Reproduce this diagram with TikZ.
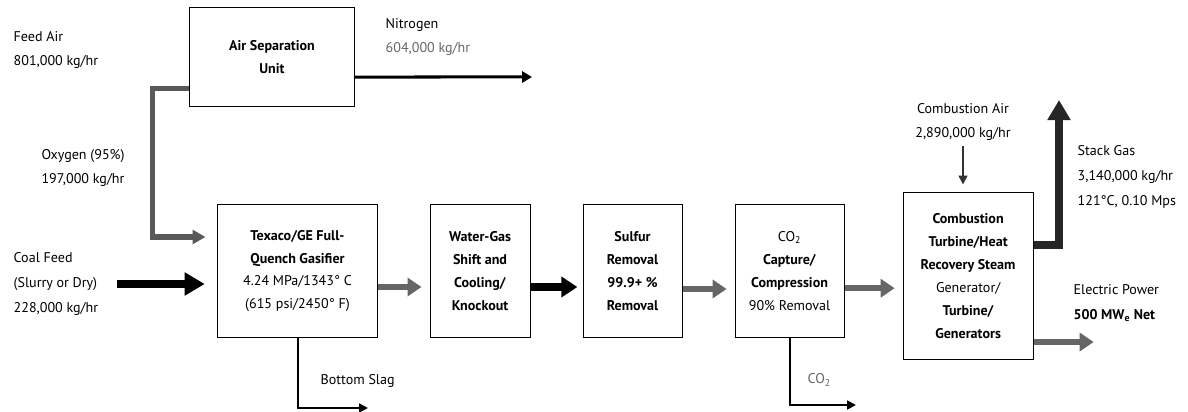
\documentclass[tikz,border=0pt]{standalone}
\usepackage{fontspec}
\setmainfont{PT Sans}
\usetikzlibrary{arrows.meta,positioning}

\begin{document}
\begin{tikzpicture}[
  x=0.025cm, y=-0.025cm,
  node distance=1.3cm,
  block/.style={rectangle, draw, line width=0.7pt, align=center, inner sep=2pt,
                minimum height=3.3cm, font=\fontsize{10}{16.3}\selectfont},
  lbl/.style={inner sep=1pt, font=\fontsize{10}{17.5}\selectfont},
  grayarr/.style={draw=black!60, line width=1.5mm,
                  -{Triangle[length=3.5mm,width=4.5mm]}, shorten >=2mm},
  bigarr/.style={line width=1.9mm, -{Triangle[length=5mm,width=5.5mm]}},
  medarr/.style={line width=0.75mm, -{Triangle[length=2.5mm,width=2.8mm]}},
  thinarr/.style={line width=0.5mm, -{Triangle[length=2.2mm,width=2.2mm]}},
]
  \useasboundingbox (0,0) rectangle (1188,412);

  % process boxes
  \node[block, minimum width=4.1cm, minimum height=2.45cm] (asu) at (272,57)
    {\textbf{Air Separation}\\\textbf{Unit}};
  \node[block, minimum width=3.975cm] (gas) at (297.5,271)
    {\textbf{Texaco/GE Full-}\\\textbf{Quench Gasifier}\\4.24 MPa/1343° C\\(615 psi/2450° F)};
  \node[block, minimum width=2.5cm, right=of gas] (wgs)
    {\textbf{Water-Gas}\\\textbf{Shift and}\\\textbf{Cooling/}\\\textbf{Knockout}};
  \node[block, minimum width=2.475cm, right=of wgs] (sulf)
    {\textbf{Sulfur}\\\textbf{Removal}\\\textbf{99.9+ \%}\\\textbf{Removal}};
  \node[block, minimum width=2.725cm, right=of sulf] (co2)
    {CO\textsubscript{2}\\\textbf{Capture/}\\\textbf{Compression}\\90\% Removal};
  \node[block, minimum width=3.25cm, minimum height=4.15cm, right=1.45cm of co2, yshift=-0.125cm] (ctg)
    {\textbf{Combustion}\\\textbf{Turbine/Heat}\\\textbf{Recovery Steam}\\Generator/\\\textbf{Turbine/}\\\textbf{Generators}};

  % stream labels
  \node[lbl, anchor=west, align=left] (feed) at (12,50) {Feed Air\\801,000 kg/hr};
  \node[lbl, align=center] (oxy) at (83,168) {Oxygen (95\%)\\197,000 kg/hr};
  \node[lbl, anchor=west, align=left] (nitro) at (384,37)
    {Nitrogen\\\textcolor{black!60}{604,000 kg/hr}};
  \node[lbl, anchor=west, align=left] (coal) at (12,284)
    {Coal Feed\\(Slurry or Dry)\\228,000 kg/hr};
  \node[lbl, anchor=west] (slag) at (319,381) {Bottom Slag};
  \node[lbl, anchor=west, text=black!60] (co2lbl) at (806,380) {CO\textsubscript{2}};
  \node[lbl, align=center] (cair) at (963,122) {Combustion Air\\2,890,000 kg/hr};
  \node[lbl, anchor=west, align=left] (stack) at (1076,177)
    {Stack Gas\\3,140,000 kg/hr\\121°C, 0.10 Mps};
  \node[lbl, anchor=west, align=left] (power) at (1072,303)
    {Electric Power\\\textbf{500 MW\textsubscript{e} Net}};

  \coordinate (n2end) at (532,77);
  \coordinate (o2bend) at (152,237);
  \coordinate (slagend) at (368,408);
  \coordinate (co2end) at (856,405);
  \coordinate (stacktop) at (1059,100);

  % streams
  \draw[draw=black!65, line width=1.25mm, -{Triangle[length=3.2mm,width=3.4mm]}, shorten >=3mm]
    ([yshift=-0.775cm]asu.west) -| (o2bend) -- (o2bend -| gas.west);
  \draw[medarr] ([yshift=-0.5cm]asu.east) -- (n2end);
  \draw[bigarr, shorten <=4.2mm, shorten >=3.2mm] (coal) -- (coal -| gas.west);
  \draw[grayarr] ([yshift=-0.4cm]gas.east) -- ([yshift=-0.4cm]wgs.west);
  \draw[line width=2mm, -{Triangle[length=4mm,width=5mm]}, shorten >=1.3mm]
    ([yshift=-0.4cm]wgs.east) -- ([yshift=-0.4cm]sulf.west);
  \draw[grayarr] ([yshift=-0.45cm]sulf.east) -- ([yshift=-0.45cm]co2.west);
  \draw[grayarr] ([yshift=-0.43cm]co2.east) -- ([yshift=-0.43cm]co2.east -| ctg.west);
  \draw[thinarr, line width=0.4mm, draw=black!80, shorten <=1mm, shorten >=2mm] (cair) -- (cair |- ctg.north);
  \draw[bigarr, draw=black!85, line join=miter] ([yshift=0.78cm]ctg.east) -| (stacktop);
  \draw[grayarr, shorten >=0pt] ([yshift=-1.65cm]ctg.east) -- ++(1.5cm,0);
  \draw[thinarr] (gas.south) |- (slagend);
  \draw[thinarr] (co2.south) |- (co2end);
\end{tikzpicture}
\end{document}
